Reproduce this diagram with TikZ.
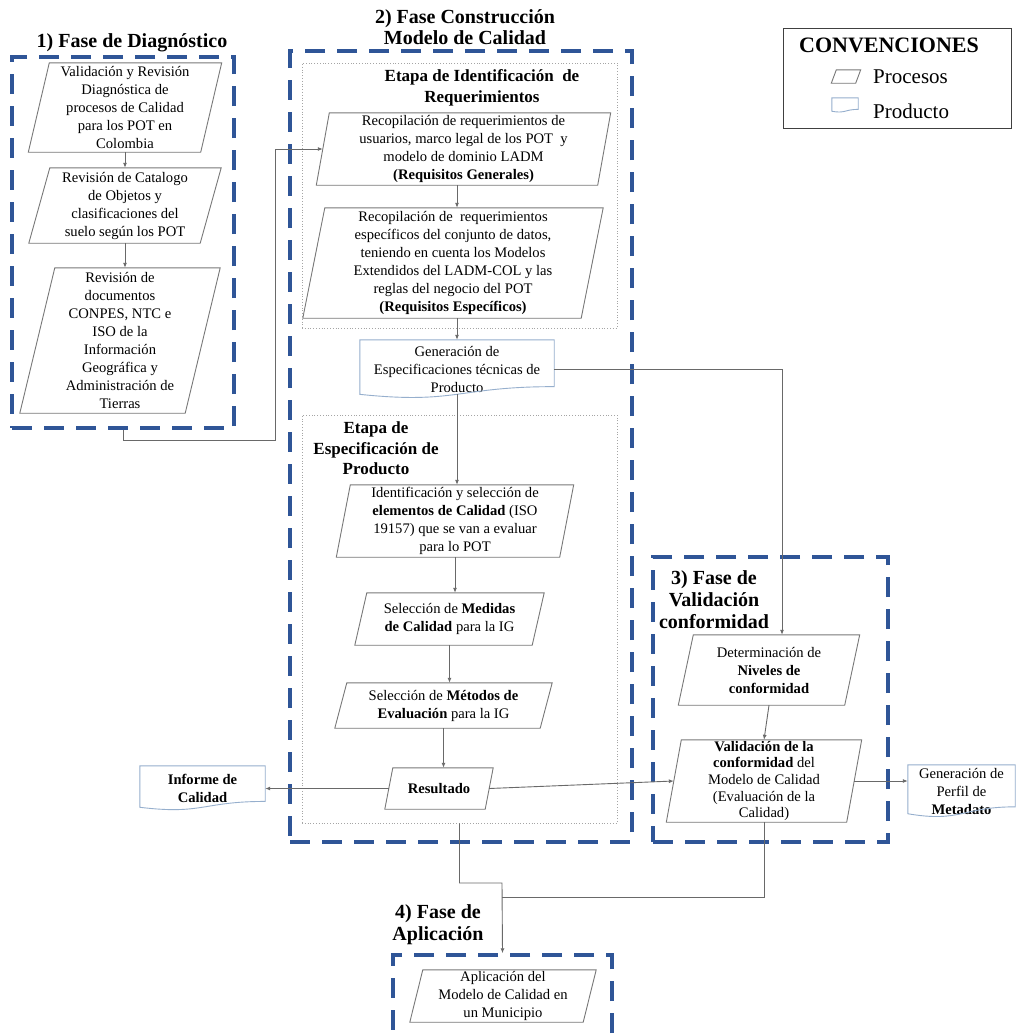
\documentclass[tikz,border=0pt]{standalone}
\usepackage{fontspec}
\setmainfont{Liberation Serif}
\usetikzlibrary{calc,arrows.meta}

\definecolor{phaseblue}{RGB}{47,85,151}
\definecolor{procgray}{RGB}{120,120,120}
\definecolor{docblue}{RGB}{150,175,205}
\definecolor{linkgray}{RGB}{105,105,105}
\definecolor{stagegray}{RGB}{165,165,165}

\tikzset{
  phase/.style={rectangle, inner sep=0, draw=phaseblue, line width=3.5pt, dash pattern=on 20pt off 12pt},
  stage/.style={rectangle, inner sep=0, draw=stagegray, line width=0.8pt, dotted},
  txt/.style={rectangle, align=center, inner sep=0, font=\fontsize{14.6}{18}\selectfont},
  phasetitle/.style={align=center, inner sep=0, font=\fontsize{20}{22}\selectfont\bfseries},
  stagetitle/.style={align=center, inner sep=0, font=\fontsize{17}{20.5}\selectfont\bfseries},
  legendtxt/.style={anchor=west, inner sep=0, font=\fontsize{21}{24}\selectfont},
  procline/.style={draw=procgray, line width=0.9pt},
  docline/.style={draw=docblue, line width=0.9pt},
  link/.style={draw=linkgray, line width=0.9pt},
  arr/.style={link, -{Latex[length=5pt,width=4pt]}},
}

% parallelogram (process) around a named node, #2 = horizontal slant
\newcommand\parall[2]{%
  \draw[procline] ($(#1.north west)+(#2/2,0)$) -- ($(#1.north east)+(#2/2,0)$)
    -- ($(#1.south east)-(#2/2,0)$) -- ($(#1.south west)-(#2/2,0)$) -- cycle;}
% document (product) shape with wavy bottom around a named node
\newcommand\docshape[1]{%
  \draw[docline] (#1.north west) -- (#1.north east)
    -- ($(#1.north east)!0.802!(#1.south east)$)
    .. controls ($(#1.north)!0.802!(#1.south)$) and ($(#1.north)!1.1075!(#1.south)$)
    .. ($(#1.north west)!0.934!(#1.south west)$) -- cycle;}

\begin{document}
\begin{tikzpicture}[x=1pt,y=-1pt]
\useasboundingbox (0,0) rectangle (1016,1034);
\fill[white] (0,0) rectangle (1016,1034);
\clip (0,0) rectangle (1016,1034);

% ---------- phase frames and stage frames ----------
\node[phase, minimum width=222pt, minimum height=371pt] (p1) at (123,242.5) {};
\node[phase, minimum width=342pt, minimum height=791pt] (p2) at (461,446.5) {};
\node[phase, minimum width=235pt, minimum height=285pt] (p3) at (770.5,699.5) {};
\node[phase, minimum width=219pt, minimum height=115pt] (p4) at (502.5,1012.5) {};
\node[stage, minimum width=315pt, minimum height=265pt] (sub1) at (459.5,195.5) {};
\node[stage, minimum width=315pt, minimum height=408pt] (sub2) at (459.5,619) {};

% ---------- titles ----------
\node[phasetitle] (t1) at (132,43) {1) Fase de Diagnóstico};
\node[phasetitle, font=\fontsize{20}{21}\selectfont\bfseries] (t2) at (465,27.5) {2) Fase Construcción\\Modelo de Calidad};
\node[phasetitle] (t3) at (714,600) {3) Fase de\\Validación\\conformidad};
\node[phasetitle] (t4) at (438,925) {4) Fase de\\Aplicación};
\node[stagetitle] (s1) at (482,88) {Etapa de Identificación~ de\\Requerimientos};
\node[stagetitle] (s2) at (376,448.5) {Etapa de\\Especificación de\\Producto};

% ---------- phase 1 ----------
\node[txt, minimum width=172pt, minimum height=89pt] (a1) at (125,107.5)
  {Validación y Revisión\\Diagnóstica de\\procesos de Calidad\\para los POT en\\Colombia};
\node[txt, minimum width=171pt, minimum height=75pt] (a2) at (125,205.5)
  {Revisión de Catalogo\\de Objetos y\\clasificaciones del\\suelo según los POT};
\node[txt, minimum width=165pt, minimum height=145pt] (a3) at (120,340.5)
  {Revisión de\\documentos\\CONPES, NTC e\\ISO de la\\Información\\Geográfica y\\Administración de\\Tierras};

% ---------- phase 2 ----------
\node[txt, minimum width=281pt, minimum height=72pt] (b1) at (463.5,149)
  {Recopilación de requerimientos de\\usuarios, marco legal de los POT~ y\\modelo de dominio LADM\\\textbf{(Requisitos Generales)}};
\node[txt, minimum width=278pt, minimum height=110pt] (b2) at (453,263)
  {Recopilación de~ requerimientos\\específicos del conjunto de datos,\\teniendo en cuenta los Modelos\\Extendidos del LADM-COL y las\\reglas del negocio del POT\\\textbf{(Requisitos Específicos)}};
\node[txt, minimum width=194pt, minimum height=58pt] (gen) at (457,369)
  {Generación de\\Especificaciones técnicas de\\Producto};
\node[txt, minimum width=223pt, minimum height=72pt] (c1) at (455,521)
  {Identificación y selección de\\\textbf{elementos de Calidad} (ISO\\19157) que se van a evaluar\\para lo POT};
\node[txt, minimum width=177pt, minimum height=52pt] (c2) at (449.5,619)
  {Selección de \textbf{Medidas}\\\textbf{de Calidad} para la IG};
\node[txt, minimum width=205pt, minimum height=45pt] (c3) at (443.5,705.5)
  {Selección de \textbf{Métodos de}\\\textbf{Evaluación} para la IG};
\node[txt, minimum width=100pt, minimum height=41pt] (res) at (439,788.5)
  {\textbf{Resultado}};
\node[txt, minimum width=125pt, minimum height=44pt] (inf) at (202.5,788)
  {\textbf{Informe de}\\\textbf{Calidad}};

% ---------- phase 3 ----------
\node[txt, minimum width=166pt, minimum height=70pt] (det) at (769,670)
  {Determinación de\\\textbf{Niveles de}\\\textbf{conformidad}};
\node[txt, font=\fontsize{14.6}{16.6}\selectfont, minimum width=180pt, minimum height=82pt] (val) at (764,781)
  {\textbf{Validación de la}\\\textbf{conformidad} del\\Modelo de Calidad\\(Evaluación de la\\Calidad)};
\node[txt, minimum width=107pt, minimum height=52pt] (meta) at (961.5,791)
  {Generación de\\Perfil de\\\textbf{Metadato}};

% ---------- phase 4 ----------
\node[txt, minimum width=173pt, minimum height=52pt] (apl) at (503,996)
  {Aplicación del\\Modelo de Calidad en\\un Municipio};

% ---------- legend ----------
\node[rectangle, inner sep=0, draw=black!75, line width=0.9pt, minimum width=228pt, minimum height=100pt] (leg) at (897,78) {};
\node[inner sep=0, font=\fontsize{22}{26}\selectfont\bfseries] (conv) at (889,45) {CONVENCIONES};
\node[rectangle, inner sep=0, minimum width=24pt, minimum height=13pt] (iconP) at (846,76.5) {};
\node[legendtxt] (lp) at (873,77) {Procesos};
\node[rectangle, inner sep=0, minimum width=26pt, minimum height=14pt] (iconD) at (845,105) {};
\node[legendtxt] (ld) at (873,111) {Producto};

% ---------- outlines of processes and products ----------
\foreach \n/\s in {a1/21,a2/21,a3/35,b1/13,b2/22,c1/14,c2/12,c3/12,res/8,det/15,val/15,apl/13,iconP/5}
  \parall{\n}{\s};
\foreach \n in {gen,inf,meta,iconD}
  \docshape{\n};

% ---------- connectors ----------
\coordinate (m1) at (275,440);
\coordinate (j) at (502,883);
\coordinate (k) at (502,897);

\draw[arr] (a1.south) -- (a2.north);
\draw[arr] (a2.south) -- (a2.south |- a3.north);
\draw[arr] (p1.south) |- (m1) |- (b1.west);
\draw[arr] (b1.south -| gen.north) -- (b2.north -| gen.north);
\draw[arr] (b2.south -| gen.north) -- (gen.north);
\draw[arr] ($(gen.north)!0.933!(gen.south)$) -- (gen.south |- c1.north);
\draw[arr] (c1.south) -- (c1.south |- c2.north);
\draw[arr] (c2.south) -- (c2.south |- c3.north);
\draw[arr] (c3.south) -- (c3.south |- res.north);
\draw[arr] (res.west) -- (res.west -| inf.east);
\draw[arr] (res.east) -- (val.west);
\draw[arr] (gen.east) -| ([xshift=13pt]det.north);
\draw[arr] (det.south) -- (val.north);
\draw[arr] (val.east) -- (val.east -| meta.west);
\draw[arr] (sub2.south) |- (j) -- (p4.north);
\draw[link] (val.south) |- (k);
\end{tikzpicture}
\end{document}
